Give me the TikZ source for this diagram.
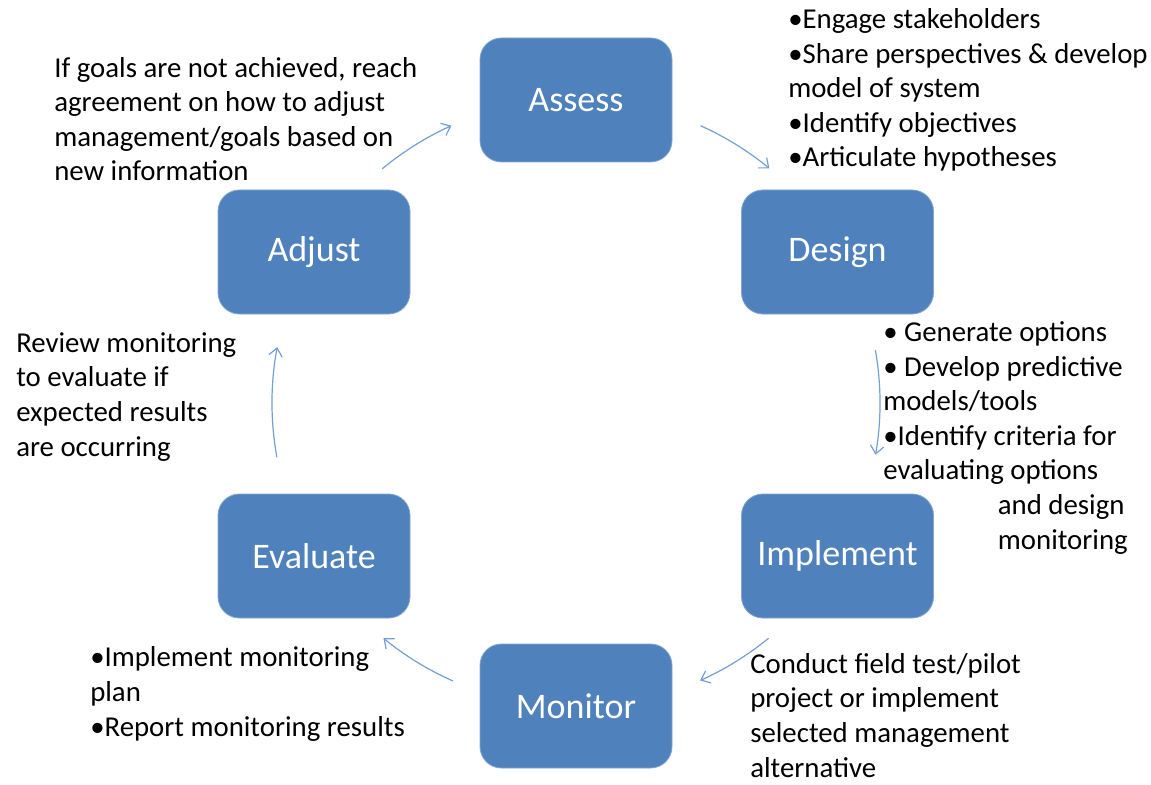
\documentclass[tikz,border=0pt]{standalone}
\usepackage{fontspec}
\setmainfont{Carlito}
\usetikzlibrary{arrows.meta}
\definecolor{stepblue}{RGB}{79,129,189}
\definecolor{arcblue}{RGB}{115,158,214}
\begin{document}
\begin{tikzpicture}[x=0.75pt,y=-0.75pt,
    stage/.style={fill=stepblue,draw=stepblue!70!white,line width=0.6pt,rounded corners=16pt,minimum width=144pt,minimum height=93pt,text=white,font=\fontsize{27}{32}\selectfont},
    note/.style={align=left,anchor=base west,inner sep=0pt,font=\fontsize{21.6}{25.9}\selectfont},
    cyc/.style={arcblue,line width=0.9pt,-{Straight Barb[length=6pt,width=10pt]}}]
      \useasboundingbox (0,0) rectangle (1151,784);
      % stages of the cycle
      \node[stage] (assess) at (576,100) {Assess};
      \node[stage] (design) at (837.5,252) {Design};
      \node[stage] (implement) at (837.5,556) {Implement};
      \node[stage] (monitor) at (576,706) {Monitor};
      \node[stage] (evaluate) at (314,556) {Evaluate};
      \node[stage] (adjust) at (314,252) {Adjust};
      % arcs round the cycle
      \coordinate (hub) at (576,403);
      \coordinate (adjOut) at ([shift={(-129.6:304)}]hub);
      \coordinate (assOut) at ([shift={(-65.8:304)}]hub);
      \coordinate (desOut) at ([shift={(-10:304)}]hub);
      \coordinate (impOut) at ([shift={(50.7:304)}]hub);
      \coordinate (monOut) at ([shift={(113.9:304)}]hub);
      \coordinate (evaOut) at ([shift={(169.7:304)}]hub);
      \draw[cyc] (adjOut) arc[start angle=-129.6,end angle=-114.2,radius=304];
      \draw[cyc] (assOut) arc[start angle=-65.8,end angle=-50.5,radius=304];
      \draw[cyc] (desOut) arc[start angle=-10,end angle=9.8,radius=304];
      \draw[cyc] (impOut) arc[start angle=50.7,end angle=65.9,radius=304];
      \draw[cyc] (monOut) arc[start angle=113.9,end angle=129.3,radius=304];
      \draw[cyc] (evaOut) arc[start angle=169.7,end angle=190.6,radius=304];
      % notes (placed by the baseline of their last line)
      \node[note] (adjNote) at (54,181) {If goals are not achieved, reach\\agreement on how to adjust\\management/goals based on\\new information};
      \node[note] (assNote) at (788,167) {•Engage stakeholders\\•Share perspectives \& develop\\model of system\\•Identify objectives\\•Articulate hypotheses};
      \node[note] (desNote) at (883,549) {• Generate options\\• Develop predictive\\models/tools\\•Identify criteria for\\evaluating options\\\hspace*{86pt}and design\\\hspace*{86pt}monitoring};
      \node[note] (evaNote) at (16,456) {Review monitoring\\to evaluate if\\expected results\\are occurring};
      \node[note] (monNote) at (90,736) {•Implement monitoring\\plan\\•Report monitoring results};
      \node[note] (impNote) at (750,777) {Conduct field test/pilot\\project or implement\\selected management\\alternative};
\end{tikzpicture}
\end{document}
